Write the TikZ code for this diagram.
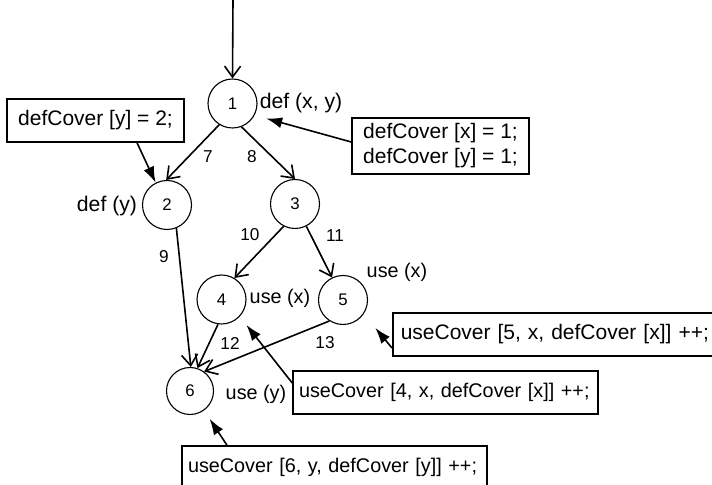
\documentclass[tikz,border=0pt]{standalone}
\usepackage{fontspec}
\setmainfont{Liberation Sans}
\usetikzlibrary{arrows.meta}
\begin{document}
\begin{tikzpicture}[x=0.5pt,y=-0.5pt,
  state/.style={circle,draw,line width=0.55pt,minimum size=24.5pt,inner sep=0pt,font=\fontsize{8.4}{10}\selectfont},
  flow/.style={line width=0.8pt,-{Straight Barb[length=5.5pt,width=8pt]}},
  note/.style={draw,line width=0.75pt,align=left,inner xsep=4pt,inner ysep=0pt,minimum height=21.5pt},
  pointer/.style={line width=0.8pt,-{Latex[length=8pt,width=5.5pt]}},
  elabel/.style={font=\fontsize{8.6}{10}\selectfont,inner sep=0pt},
  tag/.style={inner sep=0pt}
]
\useasboundingbox (0,0) rectangle (712,485);
\clip (0,0) rectangle (712,485);

% states
\node[state] (n1) at (232.5,103.5) {1};
\node[state] (n2) at (167,205) {2};
\node[state] (n3) at (295,204) {3};
\node[state] (n4) at (221.5,299.5) {4};
\node[state] (n5) at (343,300) {5};
\node[state,minimum size=23.5pt] (n6) at (190,391) {6};
\coordinate (entry) at (233,0);

% flow edges
\draw[flow] (entry) -- (n1.90);
\draw[flow] (n1.238) -- (n2.92);
\draw[flow] (n1.291) -- (n3.90);
\draw[flow] (n2.292) -- (n6.88);
\draw[flow] (n3.243) -- (n4.59);
\draw[flow] (n3.297) -- (n5.116);
\draw[flow] (n4.262) -- (n6.72);
\draw[flow] (n5.237) -- (n6.54);

% edge labels
\node[elabel] (e7) at (208,157) {7};
\node[elabel] (e8) at (252,157) {8};
\node[elabel] (e9) at (164,257) {9};
\node[elabel] (e10) at (250,235) {10};
\node[elabel] (e11) at (335,236) {11};
\node[elabel] (e12) at (230,343) {12};
\node[elabel] (e13) at (325,343) {13};

% def/use tags
\node[tag,font=\fontsize{10.6}{12}\selectfont] (t1) at (301,103) {def (x, y)};
\node[tag,font=\fontsize{10.6}{12}\selectfont] (t2) at (107,206) {def (y)};
\node[tag,font=\fontsize{9.9}{12}\selectfont] (t4) at (280,298) {use (x)};
\node[tag,font=\fontsize{9.9}{12}\selectfont] (t5) at (397,272) {use (x)};
\node[tag,font=\fontsize{9.9}{12}\selectfont] (t6) at (256,394) {use (y)};

% annotation boxes
\node[note,font=\fontsize{10.5}{12.5}\selectfont,minimum width=88.5pt,inner xsep=2pt] (b2) at (95.5,120.5) {defCover [y] = 2;};
\node[note,font=\fontsize{10.5}{12.5}\selectfont,minimum width=88.5pt,inner xsep=2pt,minimum height=28pt] (b1) at (440.5,146) {defCover [x] = 1;\\defCover [y] = 1;};
\node[note,font=\fontsize{10.5}{12.5}\selectfont,text width=170pt,anchor=west] (b5) at (392,334.5) {useCover [5, x, defCover [x]] ++;};
\node[note,font=\fontsize{9.9}{12}\selectfont,text width=146.5pt,inner xsep=3pt] (b4) at (445.5,392.5) {useCover [4, x, defCover [x]] ++;};
\node[note,font=\fontsize{9.9}{12}\selectfont,text width=146.5pt,inner xsep=3pt] (b6) at (334.5,467.5) {useCover [6, y, defCover [y]] ++;};

% pointers
\draw[pointer] ([xshift=20.75pt]b2.south) -- (n2.117);
\draw[pointer,shorten >=6pt] ([yshift=2pt]b1.west) -- (n1.332);
\draw[pointer,shorten >=9pt] ([yshift=-6.75pt]b5.west) -- (n5.326);
\draw[pointer,shorten >=5.3pt] ([yshift=4.75pt]b4.west) -- (n4.317);
\draw[pointer,shorten >=5pt] ([xshift=-53.75pt]b6.north) -- (n6.306);
\end{tikzpicture}
\end{document}
